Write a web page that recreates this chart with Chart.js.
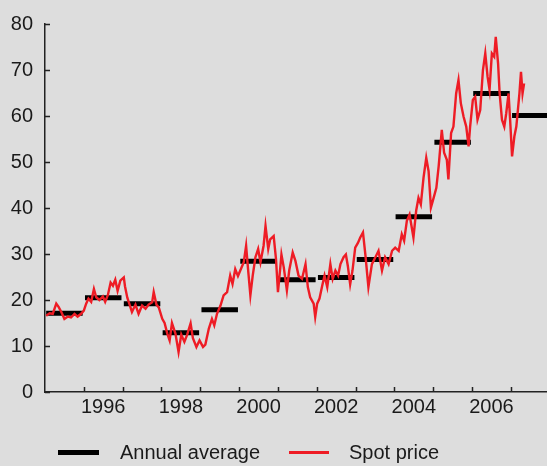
<!DOCTYPE html>
<html>
<head>
<meta charset="utf-8">
<script src="https://cdn.jsdelivr.net/npm/chart.js@4"></script>
<style>
  body { margin: 0; background: #dddddd; }
  #wrap { position: relative; width: 547px; height: 466px; }
  .legend { position: absolute; top: 441px; font: 20px "Liberation Sans", Arial, sans-serif; color: #1a1a1a; }
  .swatch { position: absolute; height: 0; }
</style>
</head>
<body>
<div id="wrap">
  <canvas id="chart" width="547" height="466"></canvas>
  <div class="swatch" style="left:58px; top:450px; width:41px; border-top:5px solid #000;"></div>
  <div class="legend" style="left:120px;">Annual average</div>
  <div class="swatch" style="left:289px; top:451px; width:40px; border-top:3px solid #ee1c25;"></div>
  <div class="legend" style="left:349px;">Spot price</div>
</div>
<script>
// Annual averages (US$ per barrel)
const avgYears = [1995, 1996, 1997, 1998, 1999, 2000, 2001, 2002, 2003, 2004, 2005, 2006, 2007];
const avgValues = [17.1, 20.5, 19.2, 12.9, 17.9, 28.4, 24.4, 24.9, 28.8, 38.1, 54.3, 64.9, 60.1];

// Spot price (decimal year, price)
const spotYears = [
  1995.03, 1995.12, 1995.20, 1995.29, 1995.35, 1995.42, 1995.50, 1995.59, 1995.67, 1995.76, 1995.84, 1995.93,
  1996.00, 1996.06, 1996.12, 1996.19, 1996.26, 1996.32, 1996.40, 1996.49, 1996.55, 1996.62, 1996.69, 1996.75,
  1996.81, 1996.87, 1996.94, 1997.03, 1997.06, 1997.12, 1997.16, 1997.24, 1997.33, 1997.41, 1997.50, 1997.59,
  1997.67, 1997.76, 1997.80, 1997.87, 1997.93, 1998.02, 1998.08, 1998.15, 1998.21, 1998.27, 1998.36, 1998.44,
  1998.51, 1998.59, 1998.66, 1998.75, 1998.81, 1998.90, 1998.98, 1999.07, 1999.13, 1999.22, 1999.30, 1999.36,
  1999.43, 1999.52, 1999.60, 1999.69, 1999.77, 1999.83, 1999.90, 1999.97, 2000.03, 2000.12, 2000.18, 2000.23,
  2000.29, 2000.35, 2000.42, 2000.49, 2000.55, 2000.63, 2000.68, 2000.75, 2000.80, 2000.89, 2000.95, 2001.00,
  2001.06, 2001.09, 2001.15, 2001.23, 2001.29, 2001.38, 2001.45, 2001.53, 2001.62, 2001.71, 2001.77, 2001.83,
  2001.92, 2001.96, 2002.01, 2002.07, 2002.14, 2002.20, 2002.27, 2002.35, 2002.41, 2002.48, 2002.55, 2002.61,
  2002.69, 2002.75, 2002.80, 2002.86, 2002.92, 2002.99, 2003.06, 2003.12, 2003.19, 2003.25, 2003.33, 2003.42,
  2003.51, 2003.59, 2003.68, 2003.76, 2003.85, 2003.94, 2004.02, 2004.11, 2004.19, 2004.25, 2004.32, 2004.39,
  2004.49, 2004.56, 2004.62, 2004.68, 2004.75, 2004.82, 2004.88, 2004.94, 2005.01, 2005.08, 2005.14, 2005.22,
  2005.28, 2005.35, 2005.39, 2005.46, 2005.52, 2005.59, 2005.65, 2005.71, 2005.78, 2005.85, 2005.91, 2005.95,
  2006.02, 2006.08, 2006.14, 2006.21, 2006.28, 2006.34, 2006.40, 2006.45, 2006.51, 2006.57, 2006.61, 2006.67,
  2006.71, 2006.77, 2006.83, 2006.88, 2006.94, 2006.98, 2007.03, 2007.09, 2007.14, 2007.18, 2007.22, 2007.26,
  2007.30, 2007.34
];
const spotPrices = [
  16.6, 17.1, 17.0, 19.2, 18.5, 17.4, 15.9, 16.4, 16.2, 17.0, 16.4, 17.0,
  17.7, 19.2, 20.3, 19.6, 22.4, 20.6, 20.0, 20.8, 19.6, 21.1, 23.8, 23.1,
  24.4, 22.0, 24.2, 24.9, 23.0, 20.5, 19.5, 17.4, 19.0, 17.0, 18.8, 18.1,
  19.0, 19.5, 21.7, 19.0, 18.4, 15.9, 15.0, 12.7, 11.2, 15.0, 12.7, 8.7,
  12.5, 10.9, 12.4, 14.9, 11.7, 9.8, 11.2, 9.8, 10.3, 13.8, 15.9, 14.5,
  17.0, 18.8, 21.0, 21.7, 25.3, 23.5, 26.7, 25.2, 26.4, 28.2, 31.8, 26.7,
  21.0, 25.3, 29.3, 31.1, 28.2, 31.8, 36.1, 31.1, 33.2, 33.9, 28.9, 21.7,
  27.0, 29.9, 27.1, 22.1, 26.4, 30.3, 28.5, 25.3, 24.6, 27.8, 22.8, 20.6,
  19.2, 16.3, 19.2, 20.3, 23.1, 25.3, 22.8, 27.8, 24.6, 26.4, 25.3, 27.8,
  29.3, 29.9, 27.4, 23.4, 26.4, 31.4, 32.4, 33.6, 34.7, 30.0, 22.8, 27.8,
  29.3, 30.7, 26.4, 29.3, 27.8, 30.7, 31.4, 30.7, 34.3, 32.9, 37.2, 38.6,
  33.6, 39.4, 42.2, 40.8, 46.6, 50.9, 48.0, 40.1, 42.2, 44.4, 49.1, 57.0,
  52.0, 50.5, 46.2, 56.3, 57.7, 64.9, 67.8, 62.8, 59.9, 57.7, 53.4, 57.7,
  63.5, 64.2, 59.2, 61.3, 70.0, 73.6, 68.5, 65.7, 73.6, 72.9, 77.2, 71.4,
  64.9, 59.2, 57.7, 60.6, 64.9, 59.2, 51.2, 55.6, 57.7, 61.3, 64.9, 69.6,
  64.9, 67.1
];

const yTicks = [0, 10, 20, 30, 40, 50, 60, 70, 80];
const xLabelYears = [1996, 1998, 2000, 2002, 2004, 2006];
const xTickYears = [1996, 1997, 1998, 1999, 2000, 2001, 2002, 2003, 2004, 2005, 2006, 2007];

const xMin = 1995, xMax = 2007.93;

// each annual average is a short flat segment across its year, broken by a null
const avgPoints = [];
avgYears.forEach((yr, i) => {
    const end = i === avgYears.length - 1 ? xMax + 0.2 : yr + 0.97;
    avgPoints.push({ x: yr + 0.03, y: avgValues[i] });
    avgPoints.push({ x: end, y: avgValues[i] });
    avgPoints.push({ x: end, y: null });
});
const spotPoints = spotYears.map((yr, i) => ({ x: yr, y: spotPrices[i] }));

// inward tick marks on both axes
const innerTicks = {
    id: 'innerTicks',
    afterDraw(chart) {
        const { ctx, chartArea, scales } = chart;
        ctx.save();
        ctx.strokeStyle = '#222';
        ctx.lineWidth = 1.5;
        ctx.beginPath();
        yTicks.forEach(v => {
            const y = Math.round(scales.y.getPixelForValue(v)) + 0.5;
            ctx.moveTo(chartArea.left, y);
            ctx.lineTo(chartArea.left + 5, y);
        });
        xTickYears.forEach(v => {
            const x = Math.round(scales.x.getPixelForValue(v)) + 0.5;
            ctx.moveTo(x, chartArea.bottom);
            ctx.lineTo(x, chartArea.bottom - 5);
        });
        ctx.stroke();
        ctx.restore();
    }
};

const font = { family: '"Liberation Sans", Arial, sans-serif', size: 20 };

new Chart(document.getElementById('chart'), {
    type: 'line',
    data: {
        datasets: [
            {
                label: 'Spot price',
                data: spotPoints,
                borderColor: '#ee1c25',
                borderWidth: 2.4,
                borderJoinStyle: 'miter',
                pointRadius: 0,
                tension: 0,
                order: 0
            },
            {
                label: 'Annual average',
                data: avgPoints,
                borderColor: '#000',
                borderWidth: 5,
                borderCapStyle: 'butt',
                pointRadius: 0,
                spanGaps: false,
                order: 1
            }
        ]
    },
    options: {
        responsive: false,
        animation: false,
        layout: { padding: { top: 22, right: 0, left: 0, bottom: 0 } },
        plugins: { legend: { display: false }, tooltip: { enabled: false } },
        scales: {
            x: {
                type: 'linear',
                min: xMin,
                max: xMax,
                afterBuildTicks: scale => {
                    scale.ticks = xLabelYears.map(v => ({ value: v + 0.5 }));
                },
                afterFit: scale => { scale.height = 74; },
                grid: { display: false, drawTicks: false },
                border: { display: true, color: '#222', width: 1.5 },
                ticks: {
                    font: font,
                    color: '#1a1a1a',
                    padding: 3,
                    maxRotation: 0,
                    autoSkip: false,
                    callback: v => String(Math.floor(v))
                }
            },
            y: {
                min: 0,
                max: 80,
                afterBuildTicks: scale => {
                    scale.ticks = yTicks.map(v => ({ value: v }));
                },
                afterFit: scale => { scale.width = 45; },
                grid: { display: false, drawTicks: false },
                border: { display: true, color: '#222', width: 1.5 },
                ticks: {
                    font: font,
                    color: '#1a1a1a',
                    padding: 12
                }
            }
        }
    },
    plugins: [innerTicks]
});
</script>
</body>
</html>
